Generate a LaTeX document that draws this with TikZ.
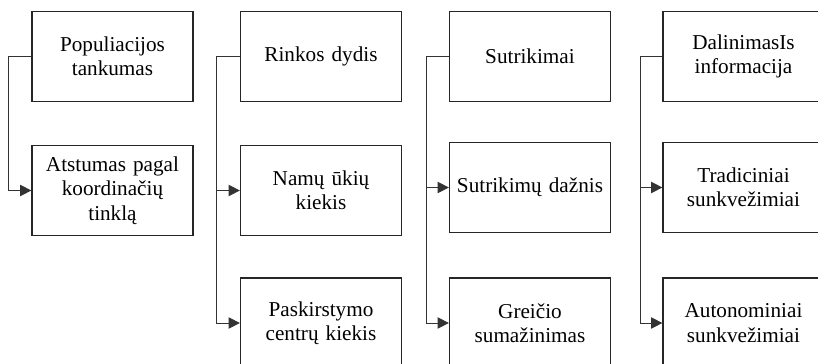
\documentclass[tikz,border=0pt]{standalone}
\usepackage{fontspec}
\setmainfont{Liberation Serif}
\usetikzlibrary{arrows.meta}

\begin{document}
\begin{tikzpicture}[x=0.75pt,y=-0.75pt,
  box/.style={draw=black!85,line width=0.9pt,rectangle,inner sep=2pt,
    align=center,font=\fontsize{15.9pt}{18.2pt}\selectfont,
    minimum width=161*0.75pt,minimum height=90*0.75pt,text width=150*0.75pt},
  conn/.style={draw=black!80,line width=0.75pt},
  arr/.style={conn,-{Triangle[length=8.5pt,width=8.5pt]}}]
  \useasboundingbox (0,0) rectangle (818,364);
  \clip (0,0) rectangle (818,364);

  % column 1
  \node[box] (p1) at (112.5,56.5) {Populiacijos\\tankumas};
  \node[box] (p2) at (112.5,190.5) {Atstumas pagal\\koordinačių\\tinklą};
  % column 2
  \node[box] (r1) at (321,56.5) {Rinkos dydis};
  \node[box] (r2) at (321,190.5) {Namų ūkių\\kiekis};
  \node[box] (r3) at (321,323) {Paskirstymo\\centrų kiekis};
  % column 3
  \node[box] (s1) at (530,56.5) {Sutrikimai};
  \node[box] (s2) at (530,187.5) {Sutrikimų dažnis};
  \node[box] (s3) at (530,323) {Greičio\\sumažinimas};
  % column 4
  \node[box] (d1) at (743.5,56.5) {DalinimasIs\\informacija};
  \node[box] (d2) at (743.5,187.5) {Tradiciniai\\sunkvežimiai};
  \node[box] (d3) at (743.5,323) {Autonominiai\\sunkvežimiai};

  % spines on the left of each column
  \coordinate (cp) at (8,0);
  \coordinate (cr) at (216,0);
  \coordinate (cs) at (426,0);
  \coordinate (cd) at (640,0);

  \draw[arr] (p1.west) -| (cp |- p2.west) -- (p2.west);

  \draw[arr] (r1.west) -| (cr |- r3.west) -- (r3.west);
  \draw[arr] (cr |- r2.west) -- (r2.west);

  \draw[arr] (s1.west) -| (cs |- s3.west) -- (s3.west);
  \draw[arr] (cs |- s2.west) -- (s2.west);

  \draw[arr] (d1.west) -| (cd |- d3.west) -- (d3.west);
  \draw[arr] (cd |- d2.west) -- (d2.west);
\end{tikzpicture}
\end{document}
